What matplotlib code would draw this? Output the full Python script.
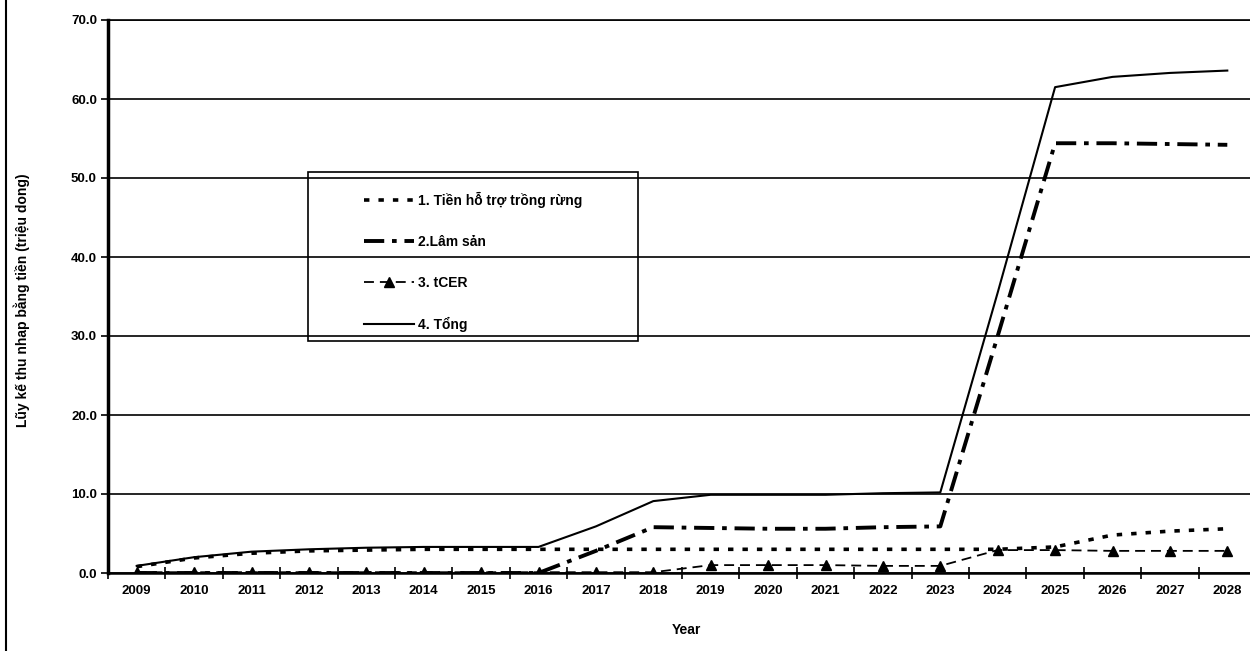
import matplotlib
matplotlib.use("Agg")
import matplotlib.pyplot as plt
from matplotlib.lines import Line2D
from matplotlib.patches import Rectangle
from matplotlib.ticker import FixedLocator, FormatStrFormatter

plt.rcParams['font.family'] = ['Liberation Sans', 'DejaVu Sans']
plt.rcParams['font.weight'] = 'bold'

years = [str(y) for y in range(2009, 2029)]

ho_tro = [0.8, 1.9, 2.5, 2.8, 2.9, 3.0, 3.0, 3.0, 3.0, 3.0,
          3.0, 3.0, 3.0, 3.0, 3.0, 3.0, 3.3, 4.8, 5.3, 5.6]
lam_san = [0.0, 0.0, 0.0, 0.0, 0.0, 0.0, 0.0, 0.0, 2.8, 5.8,
           5.7, 5.6, 5.6, 5.8, 5.9, 30.0, 54.4, 54.4, 54.3, 54.2]
tcer = [0.1, 0.1, 0.1, 0.1, 0.1, 0.1, 0.1, 0.1, 0.1, 0.1,
        1.0, 1.0, 1.0, 0.9, 0.9, 2.9, 2.9, 2.8, 2.8, 2.8]
tong = [0.9, 2.0, 2.7, 3.0, 3.2, 3.3, 3.3, 3.3, 5.9, 9.1,
        9.9, 9.9, 9.9, 10.1, 10.2, 35.5, 61.5, 62.8, 63.3, 63.6]

labels = ["1. Tiền hỗ trợ trồng rừng", "2.Lâm sản", "3. tCER", "4. Tổng"]
y_ticks = [0, 10, 20, 30, 40, 50, 60, 70]

W, H = 1250, 651
fig = plt.figure(figsize=(W / 100, H / 100), dpi=100)
ax = fig.add_axes([108 / W, 78 / H, 1148 / W, 553 / H])

x = list(range(len(years)))
l1, = ax.plot(x, ho_tro, color='black', lw=2.6, dashes=(1.5, 2.5))
l2, = ax.plot(x, lam_san, color='black', lw=2.8, dashes=(5.2, 2.0, 1.2, 2.0))
l3, = ax.plot(x, tcer, color='black', lw=1.3, dashes=(5.5, 3.3), marker='^', markersize=7,
              markerfacecolor='black', markeredgecolor='black')
l4, = ax.plot(x, tong, color='black', lw=1.5)

ax.set_xlim(-0.5, len(years) - 0.5)
ax.set_ylim(0, 70)

ax.set_xticks(x)
ax.set_xticklabels(years)
ax.xaxis.set_minor_locator(FixedLocator([i + 0.5 for i in range(-1, len(years))]))
ax.tick_params(axis='x', which='major', length=0, pad=9, labelsize=9.5)
ax.tick_params(axis='x', which='minor', direction='inout', length=8, width=1.2)

ax.set_yticks(y_ticks)
ax.yaxis.set_major_formatter(FormatStrFormatter('%.1f'))
ax.tick_params(axis='y', which='major', direction='out', length=5, width=1.2, pad=3, labelsize=9.5)

ax.yaxis.grid(True, color='black', lw=1.2)
ax.set_axisbelow(True)
ax.spines['right'].set_visible(False)
ax.spines['top'].set_linewidth(1.2)
ax.spines['left'].set_linewidth(2.5)
ax.spines['bottom'].set_linewidth(1.8)

fig.text(22 / W, 1 - 300 / H, "Lũy kế thu nhap bằng tiền (triệu dong)", rotation=90,
         ha='center', va='center', fontsize=10)
fig.text(686 / W, 1 - 630 / H, "Year", ha='center', va='center', fontsize=10)

# legend box
fig.patches.append(Rectangle((308 / W, 1 - 341 / H), 330 / W, 169 / H,
                             transform=fig.transFigure, fill=False, edgecolor='black', lw=1.2))
fig.legend([l1, l2, l3, l4], labels, loc='upper left',
           bbox_to_anchor=(354 / W, 1 - 182 / H), frameon=False, fontsize=10,
           handlelength=3.6, handletextpad=0.3, labelspacing=1.95, borderpad=0.2)

# page margin rule
fig.add_artist(Line2D([6 / W, 6 / W], [0, 1], transform=fig.transFigure, color='black', lw=1.5))

fig.savefig("out.png", dpi=100)
